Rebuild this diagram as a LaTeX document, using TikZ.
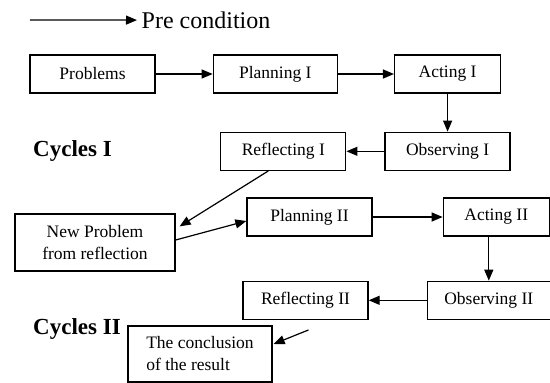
\documentclass[tikz,border=0pt]{standalone}
\usepackage{fontspec}
\setmainfont{Liberation Serif}
\usetikzlibrary{positioning}
\usetikzlibrary{arrows.meta}
\tikzstyle{stage} = [rectangle,draw=black,line width=1.3pt,inner sep=0pt,minimum width=125pt,minimum height=38pt, font=\fontsize{17.5}{22}\selectfont]
\tikzstyle{cycle} = [inner sep=0pt, font=\fontsize{23}{26}\selectfont\bfseries]
\tikzstyle{flow} = [-{Triangle[length=11pt,width=9pt]}, line width=1.2pt]

\begin{document}
\begin{tikzpicture}[x=1pt,y=-1pt]
\useasboundingbox (0,0) rectangle (550,383);

% Legend
\coordinate (legstart) at (30,20);
\node[anchor=base west, inner sep=0pt, font=\fontsize{24}{26}\selectfont] (pre) at (141.5,28.3) {Pre condition};

% Define nodes
\node[stage]                                        (prob)  at (92.5,74) {Problems};
\node[stage, right = 57pt of prob, minimum width=124pt] (plan1) {Planning I};
\node[stage, right = 56pt of plan1, minimum width=106pt] (act1)  {Acting I};
\node[stage, below = 38pt of act1]                  (obs1)  {Observing I};
\node[stage, left  = 38pt of obs1]                  (refl1) {Reflecting I};
\node[cycle]                                        (cyc1)  at (72.5,151) {Cycles I};

\node[stage, minimum width=160pt, minimum height=57pt, align=center] (newp) at (95,242.5) {New Problem\\from reflection};
\node[stage]                                        (plan2) at (309.5,217) {Planning II};
\node[stage, right = 70pt of plan2, minimum width=106pt] (act2) {Acting II};
\node[stage, below = 44pt of act2, xshift=-7.5pt, minimum width=123pt] (obs2) {Observing II};
\node[stage, left  = 58pt of obs2]                  (refl2) {Reflecting II};
\node[cycle]                                        (cyc2)  at (77,329) {Cycles II};
\node[stage, minimum width=144pt, minimum height=56pt, align=left] (concl) at (200,354) {The conclusion\\of the result};
\coordinate[below = 10pt of refl2.south, xshift=3pt] (r2out);

% Edges
\draw[flow] (legstart) -- ([xshift=-4.5pt]pre.west);
\draw[flow] (prob)  -- (plan1);
\draw[flow] (plan1) -- (act1);
\draw[flow] (act1)  -- (act1 |- obs1.north);
\draw[flow] (obs1)  -- (obs1 -| refl1.east);
\draw[flow] ([xshift=-15pt]refl1.south) -- ([xshift=4pt,yshift=-13pt]newp.north east);
\draw[flow] ([yshift=2.5pt]newp.east) -- ([yshift=-4pt]plan2.west);
\draw[flow] (plan2) -- (act2);
\draw[flow] (obs2 |- act2.south) -- (obs2);
\draw[flow] (obs2)  -- (refl2);
\draw[flow] (r2out) -- ([xshift=1pt,yshift=10pt]concl.east);

\end{tikzpicture}
\end{document}
